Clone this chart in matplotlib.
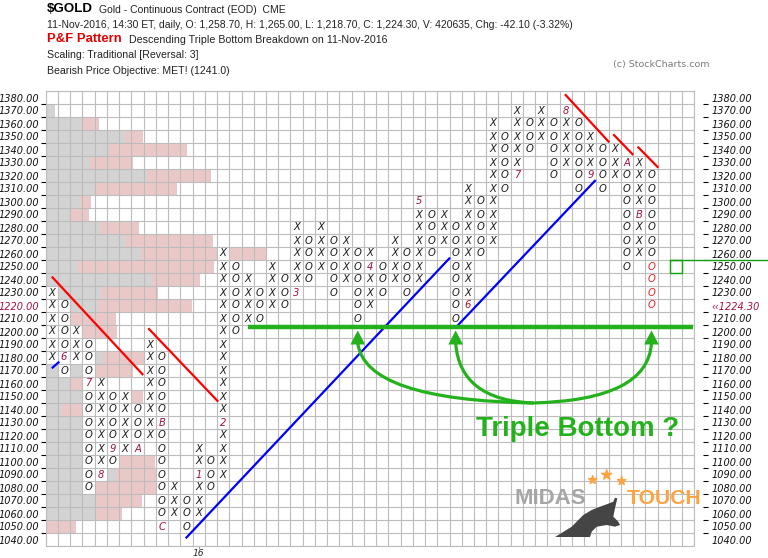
import matplotlib
matplotlib.use('Agg')
import matplotlib.pyplot as plt
from matplotlib.patches import Rectangle, Polygon, PathPatch
from matplotlib.path import Path

# ---- P&F columns (box 10, reversal 3), col 0 is an X column ----
col_types = ['X', 'O'] * 25
col_low = [1180, 1170, 1180, 1080, 1090, 1100, 1110, 1110, 1120, 1050,
           1060, 1050, 1060, 1080, 1090, 1200, 1210, 1210, 1220, 1220,
           1230, 1240, 1250, 1230, 1240, 1210, 1220, 1230, 1240, 1230,
           1240, 1260, 1270, 1210, 1220, 1260, 1270, 1310, 1320, 1340,
           1350, 1320, 1330, 1310, 1320, 1310, 1320, 1250, 1260, 1220]
col_high = [1230, 1220, 1200, 1190, 1160, 1150, 1150, 1140, 1190, 1180,
            1080, 1070, 1110, 1100, 1260, 1250, 1240, 1230, 1250, 1240,
            1280, 1270, 1280, 1270, 1270, 1260, 1260, 1250, 1270, 1260,
            1300, 1290, 1290, 1280, 1310, 1300, 1360, 1350, 1370, 1360,
            1370, 1360, 1370, 1360, 1350, 1340, 1340, 1330, 1330, 1320]

# month markers (column, price, label)
mark_col = [1, 3, 4, 5, 7, 9, 9, 12, 14, 20, 26, 30, 34, 38, 42, 44, 47, 48]
mark_price = [1180, 1160, 1090, 1110, 1110, 1130, 1050, 1090, 1130, 1230,
              1250, 1300, 1220, 1320, 1370, 1320, 1330, 1290]
mark_text = ['6', '7', '8', '9', 'A', 'B', 'C', '1', '2', '3',
             '4', '5', '6', '7', '8', '9', 'A', 'B']

# today's boxes
today_col = 49
today_prices = [1250, 1240, 1230, 1220]

# volume-at-price (in column widths)
price_levels = list(range(1380, 1030, -10))
gray_vol = [0, 0.76, 3.02, 6.48, 5.20, 3.62, 8.30, 3.97, 2.80, 2.07, 4.44, 6.56,
            7.79, 2.61, 8.71, 4.52, 4.25, 1.99, 1.99, 1.17, 4.71, 3.62, 2.07,
            4.44, 1.31, 3.62, 3.62, 4.03, 4.44, 5.74, 4.03, 4.03, 4.03, 0, 0]
total_vol = [0, 0.76, 4.36, 7.98, 11.55, 7.11, 13.51, 10.70, 3.70, 3.54, 7.62,
             13.65, 18.06, 13.75, 12.61, 9.15, 11.98, 5.74, 5.85, 3.05, 10.02,
             7.16, 4.85, 7.98, 4.03, 6.07, 5.25, 6.32, 8.93, 9.67, 10.16, 7.84,
             6.21, 2.48, 0]

# trend lines ((col, price), (col, price))
red_lines = [((0.0, 1242.2), (7.47, 1166.5)),
             ((7.88, 1202.5), (13.6, 1146.0)),
             ((41.93, 1382.5), (45.55, 1345.5)),
             ((45.88, 1351.7), (47.51, 1335.8)),
             ((47.87, 1342.2), (49.56, 1326.0))]
blue_lines = [((0.0, 1171.7), (0.61, 1176.8)),
              ((10.94, 1040.9), (32.54, 1256.8)),
              ((33.0, 1203.0), (44.44, 1316.5))]

# triple bottom annotation
support_level = 1203.2
support_from, support_to = 16.05, 52.37
bottom_cols = [25, 33, 49]
curve_ctrl = [(25.61, 1147.3), (33.35, 1147.3), (48.72, 1147.3)]
curve_join = (39.32, 1145.0)

last_price = 1224.30

GREEN = '#23b21c'
CRIMSON = '#a5123f'

fig = plt.figure(figsize=(7.68, 5.58), dpi=100)
ax = fig.add_axes([45.7 / 768, 1 - 546 / 558, 648.6 / 768, 455 / 558])
ax.set_xlim(-0.5, 52.5)
ax.set_ylim(1035, 1385)

# volume bars
pink_vol = [t - g for t, g in zip(total_vol, gray_vol)]
ax.barh(price_levels, gray_vol, left=-0.5, height=10, color='#d3d3d3', zorder=1)
ax.barh(price_levels, pink_vol, left=[g - 0.5 for g in gray_vol], height=10,
        color='#ebc8c8', zorder=1)

# boxes
marks = {(c, p): t for c, p, t in zip(mark_col, mark_price, mark_text)}
for k, t in enumerate(col_types):
    for p in range(col_low[k], col_high[k] + 1, 10):
        ax.add_patch(Rectangle((k - 0.5, p - 5), 1, 10, fc='white', ec='none', zorder=2))
        if (k, p) in marks:
            s, c = marks[(k, p)], CRIMSON
        elif k == today_col and p in today_prices:
            s, c = 'O', '#f02020'
        else:
            s, c = t, '#1a1a1a'
        ax.text(k, p, s, ha='center', va='center', fontsize=7.2, style='italic',
                color=c, zorder=6)

# grid
ax.vlines([k - 0.5 for k in range(54)], 1035, 1385, color='#bcbcbc', lw=0.8, zorder=3)
ax.hlines(list(range(1035, 1386, 10)), -0.5, 52.5, color='#bcbcbc', lw=0.8, zorder=3)
for sp in ax.spines.values():
    sp.set_color('#bcbcbc')
    sp.set_linewidth(0.8)

# trend lines
for (x0, y0), (x1, y1) in red_lines:
    ax.plot([x0, x1], [y0, y1], color='#ff0000', lw=1.6, zorder=4, solid_capstyle='butt')
for (x0, y0), (x1, y1) in blue_lines:
    ax.plot([x0, x1], [y0, y1], color='#0000ff', lw=1.6, zorder=4, solid_capstyle='butt')

# triple bottom
ax.plot([support_from, support_to], [support_level, support_level], color=GREEN,
        lw=3.2, zorder=5, solid_capstyle='butt')
for bc, ctrl in zip(bottom_cols, curve_ctrl):
    path = Path([(bc, 1191), ctrl, curve_join], [Path.MOVETO, Path.CURVE3, Path.CURVE3])
    ax.add_patch(PathPatch(path, fc='none', ec=GREEN, lw=2.3, zorder=5))
    ax.add_patch(Polygon([(bc - 0.6, 1190), (bc, 1200.8), (bc + 0.6, 1190)],
                         closed=True, fc=GREEN, ec='none', zorder=5))
ax.text(43.0, 1125.2, 'Triple Bottom ?', ha='center', va='center', fontsize=20,
        fontweight='bold', color=GREEN, family='Liberation Sans', zorder=6)

# current price box
ax.add_patch(Rectangle((49.5 + 1, 1245), 1, 10, fc='none', ec='#10a010', lw=1, zorder=5))
ax.plot([50.5, 58.6], [1255, 1255], color='#10a010', lw=1, zorder=5, clip_on=False)

# y labels left
ax.set_yticks(price_levels)
ax.set_yticklabels([f'{p:.2f}' for p in price_levels], fontsize=7, style='italic')
ax.tick_params(axis='y', which='major', length=0, pad=4.6, labelcolor='#111111')
for lab, p in zip(ax.get_yticklabels(), price_levels):
    if p == 1220:
        lab.set_color(CRIMSON)
bounds = list(range(1045, 1380, 10))
ax.set_yticks(bounds, minor=True)
ax.tick_params(axis='y', which='minor', length=3.6, width=0.8, color='black',
               direction='out')

# y labels right
ax2 = ax.twinx()
ax2.set_ylim(1035, 1385)
ax2.set_yticks(price_levels)
right_labels = [f'{p:.2f}' if p != 1220 else f'\u2039\u2039{last_price:.2f}'
                for p in price_levels]
ax2.set_yticklabels(right_labels, fontsize=7, style='italic')
ax2.tick_params(axis='y', length=0, pad=12.5, labelcolor='#111111')
for lab, p in zip(ax2.get_yticklabels(), price_levels):
    if p == 1220:
        lab.set_color(CRIMSON)
for sp in ax2.spines.values():
    sp.set_visible(False)
ax.hlines(bounds, 53.19, 53.64, color='black', lw=0.8, clip_on=False)

# x axis
ax.set_xticks([12])
ax.set_xticklabels(['16'], fontsize=6.6, style='italic')
ax.tick_params(axis='x', length=2, color='#999999', pad=0.3, labelcolor='#222222')

# ---- header and logo in pixel coordinates ----
ov = fig.add_axes([0, 0, 1, 1], facecolor='none')
ov.set_xlim(0, 768)
ov.set_ylim(558, 0)
ov.axis('off')
hf = 'Liberation Sans'
ov.text(47, 9, '$GOLD', fontsize=9.6, fontweight='bold', family=hf, va='center', color='black')
ov.text(99, 10.3, 'Gold - Continuous Contract (EOD)  CME', fontsize=7.5, family=hf,
        va='center', color='#222222')
ov.text(47, 24.5, '11-Nov-2016, 14:30 ET, daily, O: 1,258.70, H: 1,265.00, L: 1,218.70, '
        'C: 1,224.30, V: 420635, Chg: -42.10 (-3.32%)', fontsize=7.5, family=hf,
        va='center', color='#222222')
ov.text(47, 39.5, 'P&F Pattern', fontsize=9.4, fontweight='bold', family=hf, va='center',
        color='#e60000')
ov.text(129, 40, 'Descending Triple Bottom Breakdown on 11-Nov-2016', fontsize=7.7,
        family=hf, va='center', color='#222222')
ov.text(47, 55, 'Scaling: Traditional [Reversal: 3]', fontsize=7.6, family=hf,
        va='center', color='#222222')
ov.text(47, 70.7, 'Bearish Price Objective: MET! (1241.0)', fontsize=7.6, family=hf,
        va='center', color='#222222')
ov.text(613, 65, '(c) StockCharts.com', fontsize=6.8, va='center', color='#7a7a7a')

# Midas Touch logo
ov.text(515, 499, 'MIDAS', fontsize=16, fontweight='bold', family=hf, va='center',
        color='#a6a6a6', zorder=3)
ov.text(627, 499, 'TOUCH', fontsize=15.2, fontweight='bold', family=hf, va='center',
        color='#ffa340', zorder=3)
ov.scatter([592.7, 606.7, 621.7], [480, 475, 481], marker='*', s=[40, 55, 40],
           color='#ffa340', zorder=3)
bull = [(555, 537), (571.7, 526.7), (583.3, 515), (591.7, 510), (600, 506.7),
        (606.7, 504.3), (613.3, 501.7), (615, 497.7), (617.3, 498.3), (615, 508.3),
        (613.3, 516.7), (618.3, 521.7), (620, 525), (615, 526.7), (606.7, 525),
        (596.7, 526.7), (591.7, 531.7), (590, 537), (573.3, 537)]
ov.add_patch(Polygon(bull, closed=True, fc='#454545', ec='none', zorder=3))

fig.savefig('out.png', dpi=100)
